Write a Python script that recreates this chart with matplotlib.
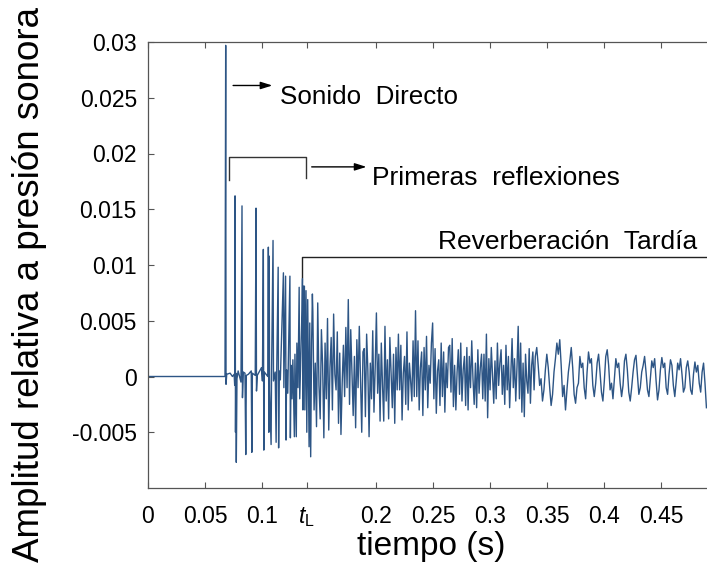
import numpy as np
import matplotlib as mpl
import matplotlib.pyplot as plt

mpl.rcParams.update({
    "font.family": ["Liberation Sans", "DejaVu Sans"],
    "mathtext.fontset": "custom",
    "mathtext.it": "Liberation Sans:italic",
    "mathtext.rm": "Liberation Sans",
})

# ── Data: impulse response ──────────────────────────────────────────
# direct sound + early reflections (time in s, relative amplitude)
early_t = [0.0, 0.0675, 0.0681, 0.0684, 0.0690, 0.0720, 0.0740,
           0.0755, 0.0760, 0.0763, 0.0767, 0.0770, 0.0774, 0.0780, 0.0790,
           0.0815, 0.0824, 0.0828, 0.0835, 0.0850, 0.0857, 0.0862, 0.0880,
           0.0905, 0.0910, 0.0915, 0.0940, 0.0947, 0.0951, 0.0958,
           0.0995, 0.1003, 0.1011, 0.1015, 0.1020, 0.1050, 0.1055, 0.1059,
           0.1062, 0.1066, 0.1079, 0.1083, 0.1096, 0.1100, 0.1115, 0.1123,
           0.1128, 0.1141, 0.1145, 0.1150, 0.1160, 0.1187, 0.1191, 0.1206,
           0.1210, 0.1215, 0.1225, 0.1244, 0.1248, 0.1255, 0.1262, 0.1270,
           0.1283, 0.1288, 0.1300, 0.1305, 0.1315, 0.1325, 0.1330, 0.1350,
           0.1354, 0.1358, 0.1362, 0.1371, 0.1375, 0.1385, 0.1392, 0.1400,
           0.1412, 0.1418, 0.1426, 0.1434, 0.1441]
early_a = [0.0, 0.0, 0.0297, -0.0007, 0.0002, 0.0003, 0.0,
           0.0002, -0.0008, 0.0162, -0.0050, 0.0003, -0.0077, -0.0002, 0.0005,
           -0.0005, 0.0153, -0.0019, 0.0004, 0.0003, -0.0070, 0.0001, 0.0002,
           0.0005, -0.0068, 0.0003, 0.0001, 0.0151, -0.0013, 0.0001,
           0.0008, -0.0004, 0.0114, -0.0066, 0.0004, 0.0, 0.0116, -0.0050,
           0.0108, -0.0012, -0.0061, 0.0003, 0.0122, -0.0004, 0.0004, -0.0059,
           0.0002, 0.0098, -0.0064, 0.0005, -0.0003, 0.0093, -0.0010, 0.0090,
           -0.0057, 0.0006, -0.0015, 0.0090, -0.0055, 0.0010, -0.0020, 0.0015,
           -0.0054, 0.0020, -0.0054, 0.0030, -0.0010, 0.0080, -0.0020, 0.0060,
           0.0088, -0.0030, 0.0081, 0.0081, -0.0030, 0.0077, -0.0050, 0.0069,
           -0.0063, 0.0048, -0.0072, 0.0030, 0.0074]

# dense reverberation, evenly sampled 0.1445 s .. 0.3395 s
mid_a = [
    0.0058, -0.0030, 0.0012, -0.0045, 0.0066, -0.0008, -0.0038, 0.0042, 0.0010, -0.0055, 0.0030, -0.0020, 0.0052, -0.0048,
    0.0008, 0.0035, -0.0030, 0.0056, 0.0002, -0.0012, 0.0040, -0.0042, 0.0021, -0.0052, -0.0006, 0.0028, -0.0018, 0.0044,
    -0.0010, 0.0069, -0.0025, 0.0042, 0.0004, -0.0035, 0.0018, -0.0046, 0.0033, -0.0010, 0.0045, -0.0002, -0.0050, 0.0022,
    0.0025, -0.0036, 0.0038, 0.0006, -0.0054, 0.0012, -0.0020, 0.0041, -0.0032, 0.0008, 0.0057, -0.0015, 0.0020, -0.0040,
    0.0030, -0.0008, -0.0040, 0.0045, -0.0022, 0.0015, -0.0038, 0.0035, 0.0004, -0.0028, 0.0020, -0.0042, 0.0026, -0.0012,
    0.0038, -0.0012, 0.0028, -0.0039, 0.0003, 0.0018, -0.0025, 0.0040, -0.0030, 0.0012, -0.0004, -0.0022, 0.0032, -0.0018,
    0.0059, -0.0018, 0.0032, -0.0030, 0.0008, 0.0022, -0.0035, 0.0026, -0.0012, 0.0036, -0.0028, 0.0010, -0.0006, 0.0030,
    0.0048, -0.0020, 0.0025, -0.0033, 0.0005, 0.0015, -0.0026, 0.0030, -0.0018, 0.0022, -0.0032, 0.0012, -0.0010, 0.0026,
    0.0028, -0.0014, 0.0034, -0.0027, 0.0010, -0.0030, 0.0004, 0.0024, -0.0016, 0.0030, -0.0022, 0.0006, 0.0018, -0.0026,
    0.0026, -0.0030, 0.0018, -0.0010, 0.0032, -0.0002, -0.0025, 0.0012, -0.0028, 0.0024, -0.0015, 0.0008, 0.0020, -0.0020,
    0.0020, -0.0022, 0.0038, -0.0037, 0.0016, -0.0012, 0.0026, 0.0002, -0.0024, 0.0014, -0.0020, 0.0030, -0.0008, 0.0012,
    0.0024, -0.0016, 0.0010, -0.0025, 0.0028, -0.0012, 0.0018, -0.0028, 0.0004, 0.0034, -0.0010, 0.0016, -0.0022, 0.0008,
    0.0045, -0.0020, 0.0030, -0.0032, 0.0012, -0.0036, 0.0020, -0.0004, -0.0015, 0.0025, -0.0024, 0.0010, 0.0022, -0.0012,
]
mid_start, mid_end = 0.1445, 0.3395

# late tail, evenly sampled 0.3395 s .. 0.4895 s
tail_a = [
    0.0018, 0.0026, 0.0010, -0.0008, -0.0002, -0.0022, -0.0012, 0.0006, 0.0020, 0.0008, -0.0010, -0.0026,
    -0.0016, 0.0004, 0.0016, 0.0030, 0.0020, 0.0033, 0.0010, -0.0018, -0.0008, -0.0030, -0.0012, 0.0004,
    0.0014, 0.0026, 0.0008, -0.0016, -0.0024, -0.0010, -0.0006, 0.0018, 0.0008, 0.0012, -0.0010, -0.0020,
    0.0004, 0.0022, 0.0012, 0.0016, -0.0008, -0.0018, -0.0006, 0.0012, 0.0020, 0.0004, -0.0014, -0.0022,
    -0.0004, 0.0018, 0.0024, 0.0010, -0.0012, -0.0006, -0.0020, -0.0002, 0.0016, 0.0008, 0.0012, -0.0006,
    -0.0018, -0.0008, 0.0014, 0.0020, 0.0006, -0.0014, -0.0022, -0.0010, 0.0004, 0.0015, 0.0019, 0.0002,
    -0.0016, -0.0010, 0.0004, 0.0010, 0.0018, 0.0004, -0.0012, -0.0018, -0.0002, 0.0014, 0.0008, 0.0016,
    -0.0004, -0.0021, -0.0012, 0.0006, 0.0017, 0.0008, 0.0012, -0.0010, -0.0016, 0.0002, 0.0015, 0.0010,
    -0.0008, -0.0018, -0.0004, 0.0012, 0.0006, 0.0016, 0.0002, -0.0014, -0.0010, 0.0008, 0.0014, 0.0004,
    -0.0012, -0.0016, 0.0002, 0.0013, 0.0004, 0.0010, -0.0006, -0.0014, 0.0004, 0.0012, -0.0006, -0.0028,
]
tail_end = 0.4895

t_L = 0.139
xticks = [0, 0.05, 0.1, t_L, 0.2, 0.25, 0.3, 0.35, 0.4, 0.45]
xticklabels = ["0", "0.05", "0.1", r"$t_{\mathrm{L}}$", "0.2", "0.25", "0.3",
               "0.35", "0.4", "0.45"]
yticks = [-0.005, 0, 0.005, 0.01, 0.015, 0.02, 0.025, 0.03]
yticklabels = ["-0.005", "0", "0.005", "0.01", "0.015", "0.02", "0.025", "0.03"]

# ── Figure ───────────────────────────────────────────────────────────
fig = plt.figure(figsize=(7.07, 5.74), dpi=100)
ax = fig.add_axes([148 / 707, 86 / 574, 559 / 707, 446 / 574])

t = np.concatenate([early_t,
                    np.linspace(mid_start, mid_end, len(mid_a), endpoint=False),
                    np.linspace(mid_end, tail_end, len(tail_a))])
a = np.concatenate([early_a, mid_a, tail_a])
ax.plot(t, a, color="#2d5585", lw=1.0)

ax.set_xlim(0, 0.49)
ax.set_ylim(-0.01, 0.03)
ax.set_xticks(xticks)
ax.set_xticklabels(xticklabels)
ax.set_yticks(yticks)
ax.set_yticklabels(yticklabels)
ax.tick_params(direction="in", length=4, width=0.8, color="#555555",
               labelsize=16.5, top=True)
ax.tick_params(axis="x", pad=12)
ax.tick_params(axis="y", pad=8)
ax.spines["right"].set_visible(False)
for s in ("left", "bottom", "top"):
    ax.spines[s].set_color("#555555")
    ax.spines[s].set_linewidth(0.9)

fig.text(0.61, 28 / 574, "tiempo (s)", ha="center", va="center", fontsize=24)
fig.text(30 / 707, 0.505, "Amplitud relativa a presión sonora", ha="center",
         va="center", rotation=90, fontsize=26.5)

# ── Annotations ──────────────────────────────────────────────────────
arrow = dict(arrowstyle="-|>,head_length=0.7,head_width=0.22", color="black",
             lw=1.0, shrinkA=0, shrinkB=0)
ax.annotate("", xy=(0.109, 0.0261), xytext=(0.0746, 0.0261), arrowprops=arrow)
ax.text(0.1158, 0.0244, "Sonido  Directo", fontsize=18.7, va="baseline")

ax.plot([0.0711, 0.0711, 0.1383, 0.1383], [0.0176, 0.0197, 0.0197, 0.0178],
        color="#333333", lw=1.0)
ax.annotate("", xy=(0.1915, 0.0188), xytext=(0.1435, 0.0188), arrowprops=arrow)
ax.text(0.196, 0.01715, "Primeras  reflexiones", fontsize=19, va="baseline")

ax.plot([0.1353, 0.1353, 0.49], [0.0089, 0.01068, 0.01068], color="#222222",
        lw=1.0, clip_on=False)
ax.text(0.4816, 0.0114, "Reverberación  Tardía", fontsize=19, ha="right",
        va="baseline")

fig.savefig("out.png", dpi=100)
